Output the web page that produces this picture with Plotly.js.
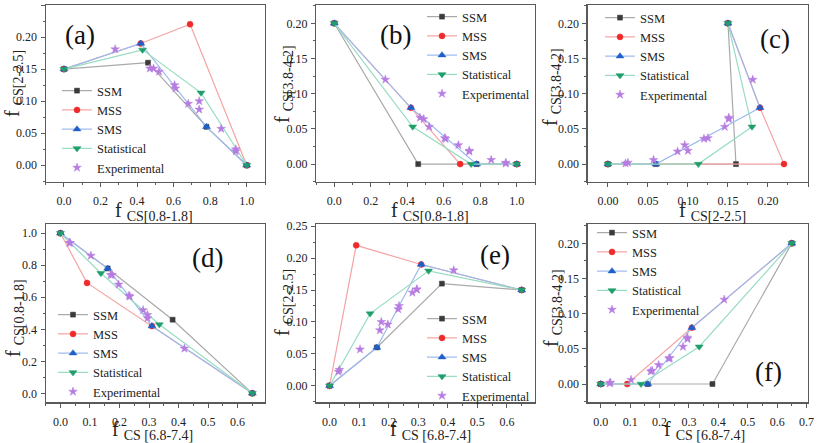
<!DOCTYPE html>
<html><head><meta charset="utf-8">
<script src="https://cdn.plot.ly/plotly-3.0.1.min.js"></script>
<style>html,body{margin:0;padding:0;background:#fff}#chart{width:817px;height:443px}</style>
</head><body><div id="chart"></div>
<script>
// Component fractions: f1 = CS[0.8-1.8], f2 = CS[2-2.5], f3 = CS[3.8-4.2], f4 = CS[6.8-7.4]
const seriesNames = ['SSM','MSS','SMS','Statistical','Experimental'];

const SSM_f1 = [0, 0.46, 0.78, 1];
const SSM_f2 = [0.15, 0.16, 0.06, 0];
const SSM_f3 = [0.2, 0, 0, 0];
const SSM_f4 = [0.65, 0.38, 0.16, 0];

const MSS_f1 = [0, 0.42, 0.69, 1];
const MSS_f2 = [0.15, 0.19, 0.22, 0];
const MSS_f3 = [0.2, 0.08, 0, 0];
const MSS_f4 = [0.65, 0.31, 0.09, 0];

const SMS_f1 = [0, 0.42, 0.78, 1];
const SMS_f2 = [0.15, 0.19, 0.06, 0];
const SMS_f3 = [0.2, 0.08, 0, 0];
const SMS_f4 = [0.65, 0.31, 0.16, 0];

const STAT_f1 = [0, 0.43, 0.75, 1];
const STAT_f2 = [0.15, 0.18, 0.113, 0];
const STAT_f3 = [0.2, 0.053, 0, 0];
const STAT_f4 = [0.65, 0.335, 0.137, 0];

const EXP_f1 = [0.28, 0.47, 0.49, 0.52, 0.605, 0.61, 0.68, 0.74, 0.74, 0.86, 0.94, 0.94];
const EXP_f2 = [0.181, 0.151, 0.151, 0.146, 0.125, 0.12, 0.096, 0.1, 0.087, 0.057, 0.025, 0.022];
const EXP_f3 = [0.12, 0.066, 0.064, 0.053, 0.037, 0.036, 0.027, 0.019, 0.018, 0.006, 0.002, 0.001];
const EXP_f4 = [0.42, 0.295, 0.295, 0.28, 0.235, 0.232, 0.197, 0.175, 0.17, 0.103, 0.033, 0.03];

const compLabels = ['CS[0.8-1.8]','CS[2-2.5]','CS[3.8-4.2]','CS[6.8-7.4]'];
const xLabelText = ['CS[0.8-1.8]','CS[0.8-1.8]','CS[2-2.5]','CS [6.8-7.4]','CS [6.8-7.4]','CS [6.8-7.4]'];
const panelLabels = ['(a)','(b)','(c)','(d)','(e)','(f)'];

const data4 = {
  SSM: [SSM_f1, SSM_f2, SSM_f3, SSM_f4],
  MSS: [MSS_f1, MSS_f2, MSS_f3, MSS_f4],
  SMS: [SMS_f1, SMS_f2, SMS_f3, SMS_f4],
  Statistical: [STAT_f1, STAT_f2, STAT_f3, STAT_f4],
  Experimental: [EXP_f1, EXP_f2, EXP_f3, EXP_f4]
};

const panels = [
  {x:0, y:1, xr:[-0.1,1.1], yr:[-0.0256,0.25], xd:0.2, yd:0.05, xf:'.1f', yf:'.2f', col:0, row:0},
  {x:0, y:2, xr:[-0.1,1.1], yr:[-0.025,0.226], xd:0.2, yd:0.05, xf:'.1f', yf:'.2f', col:1, row:0},
  {x:1, y:2, xr:[-0.0255,0.25], yr:[-0.025,0.226], xd:0.05, yd:0.05, xf:'.2f', yf:'.2f', col:2, row:0},
  {x:3, y:0, xr:[-0.05,0.693], yr:[-0.056,1.056], xd:0.1, yd:0.2, xf:'.1f', yf:'.1f', col:0, row:1},
  {x:3, y:1, xr:[-0.046,0.695], yr:[-0.026,0.253], xd:0.1, yd:0.05, xf:'.1f', yf:'.2f', col:1, row:1},
  {x:3, y:2, xr:[-0.045,0.705], yr:[-0.026,0.227], xd:0.1, yd:0.05, xf:'.1f', yf:'.2f', col:2, row:1}
];

const W = 817, H = 443;
const colPx = [[45.7,265],[316,535],[587.5,808]];
const rowPx = [[5,181.7],[224.3,402.3]];
const labelPos = [[80,35],[395,35],[775,39],[207,258],[495,255],[768,372]];
const legendPos = [[57,76],[422,2],[600,3],[53,300],[422,304],[592,218]];
const xTitlePos = [[154,211],[430,211],[712,211],[152,430],[430,430],[704,430]];
const yTitlePos = [[13,84],[283,84],[552,87],[14,318],[283,303],[552,308]];

const styles = {
  SSM: {line:'#a9a9a9', marker:'#3a3a3a', symbol:'square', size:5},
  MSS: {line:'#f5a3a3', marker:'#ee2a2a', symbol:'circle', size:6},
  SMS: {line:'#9cbaee', marker:'#1f5fc9', symbol:'triangle-up', size:7},
  Statistical: {line:'#98dcc2', marker:'#1f9e6c', symbol:'triangle-down', size:7},
  Experimental: {marker:'#b77ce2', symbol:'star', size:6.5}
};

const font = '"Liberation Serif", "Times New Roman", Times, serif';
const traces = [];
const layout = {
  width: W, height: H,
  margin: {l:0, r:0, t:0, b:0},
  paper_bgcolor: '#fff', plot_bgcolor: '#fff',
  font: {family: font, color: '#222', size: 12},
  annotations: [],
  showlegend: true
};

panels.forEach((p, i) => {
  const n = i + 1;
  const xa = 'x' + (n === 1 ? '' : n), ya = 'y' + (n === 1 ? '' : n);
  const legName = 'legend' + (n === 1 ? '' : n);
  seriesNames.forEach(name => {
    const s = styles[name];
    const d = data4[name];
    const tr = {
      type: 'scatter', x: d[p.x], y: d[p.y], xaxis: xa, yaxis: ya,
      name: name, legend: legName, cliponaxis: false,
      marker: {color: s.marker, symbol: s.symbol, size: s.size, line: {width: 0.5, color: s.marker}}
    };
    if (name === 'Experimental') {
      tr.mode = 'markers';
    } else {
      tr.mode = 'lines+markers';
      tr.line = {color: s.line, width: 1.2};
    }
    traces.push(tr);
  });
  const axBase = {
    showline: true, mirror: true, linecolor: '#5a5a5a', linewidth: 1.2,
    ticks: 'outside', ticklen: 4, tickwidth: 1, tickcolor: '#5a5a5a',
    showgrid: false, zeroline: false,
    tickfont: {family: font, size: 12, color: '#222'}
  };
  layout['xaxis' + (n === 1 ? '' : n)] = Object.assign({}, axBase, {
    domain: [colPx[p.col][0] / W, colPx[p.col][1] / W],
    anchor: ya, range: p.xr, dtick: p.xd, tick0: 0, tickformat: p.xf, ticklabelstandoff: 4,
    minor: {ticks: 'outside', ticklen: 2, dtick: p.xd / 2, tick0: 0, tickcolor: '#5a5a5a'}
  });
  layout['yaxis' + (n === 1 ? '' : n)] = Object.assign({}, axBase, {
    domain: [1 - rowPx[p.row][1] / H, 1 - rowPx[p.row][0] / H],
    anchor: xa, range: p.yr, dtick: p.yd, tick0: 0, tickformat: p.yf, ticklabelstandoff: 1,
    minor: {ticks: 'outside', ticklen: 2, dtick: p.yd / 2, tick0: 0, tickcolor: '#5a5a5a'}
  });
  layout[legName] = {
    x: legendPos[i][0] / W, y: 1 - legendPos[i][1] / H, xanchor: 'left', yanchor: 'top',
    xref: 'paper', yref: 'paper', bgcolor: 'rgba(0,0,0,0)', borderwidth: 0,
    font: {family: font, size: 12.5, color: '#222'}, itemwidth: 30, tracegroupgap: 0
  };
  layout.annotations.push({
    text: panelLabels[i], xref: 'paper', yref: 'paper', x: labelPos[i][0] / W, y: 1 - labelPos[i][1] / H,
    xanchor: 'center', yanchor: 'middle', showarrow: false,
    font: {family: font, size: 27, color: '#111'}
  });
  layout.annotations.push({
    text: 'f <sub>' + xLabelText[i] + '</sub>', xref: 'paper', yref: 'paper',
    x: xTitlePos[i][0] / W, y: 1 - xTitlePos[i][1] / H,
    xanchor: 'center', yanchor: 'middle', showarrow: false,
    font: {family: font, size: 20, color: '#222'}
  });
  layout.annotations.push({
    text: 'f <sub>' + compLabels[p.y] + '</sub>', xref: 'paper', yref: 'paper',
    x: yTitlePos[i][0] / W, y: 1 - yTitlePos[i][1] / H, textangle: -90,
    xanchor: 'center', yanchor: 'middle', showarrow: false,
    font: {family: font, size: 20, color: '#222'}
  });
});

Plotly.newPlot('chart', traces, layout, {displayModeBar: false, staticPlot: true});
</script>
</body></html>
